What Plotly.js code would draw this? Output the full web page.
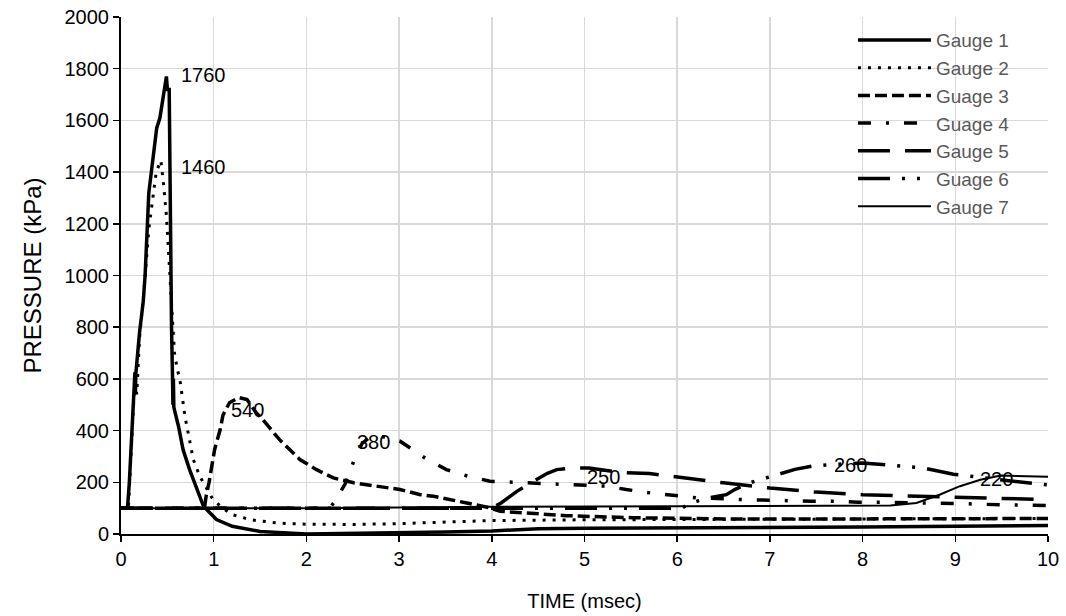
<!DOCTYPE html>
<html>
<head>
<meta charset="utf-8">
<script src="https://cdn.plot.ly/plotly-3.0.1.min.js"></script>
<style>html,body{margin:0;padding:0;background:#fff;}#chart{width:1066px;height:616px;}</style>
</head>
<body>
<div id="chart"></div>
<script>
// Series names
const seriesNames = ["Gauge 1", "Gauge 2", "Guage 3", "Guage 4", "Gauge 5", "Guage 6", "Gauge 7"];

// Gauge 1 (time msec, pressure kPa)
const g1t = [0, 0.07, 0.09, 0.1, 0.12, 0.14, 0.15, 0.155, 0.16, 0.2, 0.24, 0.26, 0.28, 0.3, 0.385, 0.42, 0.49, 0.5, 0.52, 0.53, 0.545, 0.555, 0.56, 0.565, 0.57, 0.62, 0.67, 0.74, 0.89, 1.03, 1.2, 1.5, 2.0, 2.5, 3.0, 3.5, 4.0, 4.5, 5.0, 6.0, 7.0, 8.0, 9.0, 10];
const g1p = [100, 100, 200, 280, 400, 560, 625, 540, 620, 780, 900, 1000, 1180, 1320, 1570, 1610, 1770, 1720, 1720, 1270, 800, 620, 500, 600, 490, 417, 326, 249, 107, 56, 30, 10, 0, 2, 5, 8, 12, 20, 22, 23, 25, 27, 30, 33];

// Gauge 2
const g2t = [0, 0.08, 0.1, 0.13, 0.15, 0.17, 0.2, 0.25, 0.3, 0.38, 0.43, 0.46, 0.49, 0.52, 0.54, 0.56, 0.58, 0.64, 0.69, 0.745, 0.78, 0.85, 0.98, 1.07, 1.2, 1.4, 1.7, 2.0, 2.5, 3.0, 3.5, 4.0, 5.0, 6.0, 7.0, 8.0, 9.0, 10];
const g2p = [100, 100, 250, 450, 600, 540, 760, 950, 1180, 1400, 1445, 1350, 1230, 1050, 900, 800, 687, 585, 455, 353, 288, 223, 141, 107, 75, 55, 42, 38, 37, 40, 45, 52, 55, 56, 57, 58, 59, 60];

// Guage 3
const g3t = [0, 0.9, 0.92, 0.95, 1.01, 1.07, 1.1, 1.17, 1.27, 1.36, 1.46, 1.5, 1.71, 1.93, 2.11, 2.29, 2.51, 2.79, 3.01, 3.23, 3.37, 3.73, 3.98, 4.09, 4.8, 5.52, 6.57, 7.5, 8.5, 10];
const g3p = [100, 100, 150, 200, 327, 404, 460, 508, 528, 520, 468, 455, 365, 288, 249, 217, 198, 185, 172, 152, 146, 120, 101, 88, 71, 63, 58, 58, 59, 60];

// Guage 4
const g4t = [0, 2.25, 2.3, 2.42, 2.51, 2.6, 2.7, 2.85, 3.01, 3.12, 3.28, 3.51, 3.75, 3.98, 4.23, 4.73, 4.95, 5.24, 5.45, 5.71, 5.98, 6.21, 6.71, 6.95, 7.2, 7.45, 7.7, 7.95, 8.19, 8.6, 9.0, 9.5, 10];
const g4p = [100, 100, 123, 195, 281, 350, 380, 375, 359, 333, 294, 249, 223, 204, 200, 194, 191, 185, 172, 159, 149, 140, 133, 130, 130, 127, 127, 123, 123, 121, 118, 113, 110];

// Gauge 5
const g5t = [0, 4.0, 4.1, 4.27, 4.45, 4.6, 4.7, 4.9, 5.05, 5.4, 5.7, 6.05, 6.5, 7.0, 7.5, 8.0, 8.5, 9.0, 9.5, 10];
const g5p = [100, 100, 120, 165, 204, 235, 249, 256, 255, 238, 234, 217, 198, 178, 162, 152, 147, 143, 140, 133];

// Guage 6
const g6t = [0, 6.05, 6.14, 6.35, 6.53, 6.62, 6.78, 6.95, 7.27, 7.45, 7.63, 8.0, 8.3, 8.5, 8.65, 8.98, 9.16, 9.5, 9.85, 10];
const g6p = [100, 100, 120, 140, 152, 172, 198, 217, 250, 262, 268, 275, 266, 261, 256, 231, 223, 210, 195, 190];

// Gauge 7
const g7t = [0, 2.0, 4.0, 6.0, 8.3, 8.58, 8.83, 9.05, 9.27, 9.49, 9.7, 10];
const g7p = [100, 100, 105, 108, 110, 120, 152, 185, 210, 226, 225, 221];

// Peak labels
const labelText = ["1760", "1460", "540", "380", "250", "260", "220"];
const labelX = [0.63, 0.63, 1.16, 2.52, 5.0, 7.67, 9.25];
const labelY = [1774, 1420, 478, 355, 221, 266, 214];

const xs = [g1t, g2t, g3t, g4t, g5t, g6t, g7t];
const ys = [g1p, g2p, g3p, g4p, g5p, g6p, g7p];
const styles = [
  {width: 3.5, dash: "solid"},
  {width: 3, dash: "3px,7px"},
  {width: 3.5, dash: "12px,5px"},
  {width: 3.5, dash: "13px,15px,3px,15px"},
  {width: 3.5, dash: "32px,15px"},
  {width: 3.5, dash: "32px,12px,3px,12px,3px,12px"},
  {width: 2, dash: "solid"}
];

const traces = seriesNames.map((n, i) => ({
  x: xs[i], y: ys[i], name: n, type: "scatter", mode: "lines",
  line: {color: "#000000", width: styles[i].width, dash: styles[i].dash}
}));

const FONT = "Liberation Sans, Arial, sans-serif";
const annotations = labelText.map((t, i) => ({
  x: labelX[i], y: labelY[i], text: t, showarrow: false,
  xanchor: "left", yanchor: "middle",
  font: {family: FONT, size: 20, color: "#000000"}
}));

const layout = {
  width: 1066, height: 616,
  margin: {l: 121, r: 18, t: 17, b: 82},
  paper_bgcolor: "#ffffff", plot_bgcolor: "#ffffff",
  font: {family: FONT, size: 20, color: "#000000"},
  showlegend: true,
  legend: {
    x: 0.7896, y: 0.992, xanchor: "left", yanchor: "top",
    bgcolor: "rgba(0,0,0,0)", borderwidth: 0,
    font: {family: FONT, size: 19, color: "#595959"},
    itemwidth: 73, tracegroupgap: 0
  },
  xaxis: {
    range: [0, 10], dtick: 1, tick0: 0,
    showgrid: true, gridcolor: "#d9d9d9", gridwidth: 1.5,
    showline: true, linecolor: "#000000", linewidth: 2,
    ticks: "outside", ticklen: 6, tickwidth: 1.5, tickcolor: "#000000",
    zeroline: false,
    tickfont: {family: FONT, size: 20, color: "#000000"},
    title: {text: "TIME (msec)", font: {family: FONT, size: 20, color: "#000000"}, standoff: 25}
  },
  yaxis: {
    range: [0, 2000], dtick: 200, tick0: 0,
    showgrid: true, gridcolor: "#d9d9d9", gridwidth: 1.5,
    showline: true, linecolor: "#000000", linewidth: 2,
    ticks: "outside", ticklen: 6, tickwidth: 1.5, tickcolor: "#000000",
    zeroline: false,
    tickfont: {family: FONT, size: 20, color: "#000000"},
    title: {text: "PRESSURE (kPa)", font: {family: FONT, size: 24, color: "#000000"}, standoff: 16}
  },
  annotations: annotations
};

Plotly.newPlot("chart", traces, layout, {displayModeBar: false, staticPlot: true});
</script>
</body>
</html>
